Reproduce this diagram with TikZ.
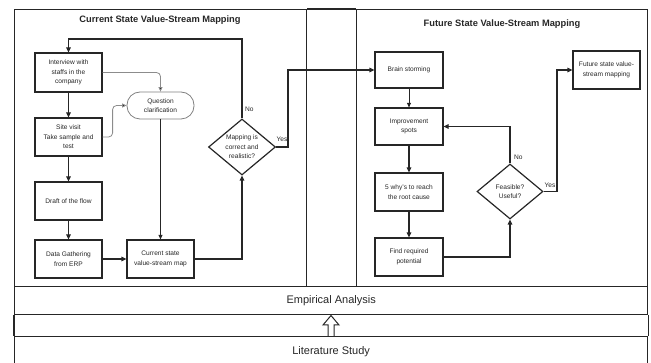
\documentclass[tikz,border=0pt]{standalone}
\usepackage{fontspec}
\setmainfont{Liberation Sans}
\usetikzlibrary{shapes.geometric,arrows.meta}
\begin{document}
\begin{tikzpicture}[x=1pt,y=-1pt,
  line join=miter,
  frame/.style={draw=black!85, line width=1.3pt},
  box/.style={draw=black!85, line width=1.2pt, minimum width=67pt, align=center,
    inner sep=1pt, font=\fontsize{6.6}{9.5}\selectfont, text=black!85},
  qbox/.style={box, draw=black!50, line width=0.8pt, rounded corners=13pt},
  dia/.style={diamond, draw=black!85, line width=1.2pt, inner sep=0pt},
  dtext/.style={align=center, font=\fontsize{6.6}{9.5}\selectfont, text=black!85},
  arr/.style={draw=black!85, line width=1.2pt, -{Triangle[length=5pt,width=4.5pt]}},
  tarr/.style={draw=black!85, line width=0.7pt, -{Triangle[length=4.5pt,width=4pt]}},
  garr/.style={draw=black!45, line width=0.8pt, rounded corners=4pt,
    -{Triangle[length=4.5pt,width=4pt,fill=black!85]}},
  lab/.style={font=\fontsize{6.6}{8}\selectfont, inner sep=0pt, text=black!85},
  title/.style={font=\bfseries\fontsize{9.3}{11}\selectfont, text=black!85},
  band/.style={frame, anchor=north west, inner sep=0pt, font=\fontsize{11}{13}\selectfont, text=black!85}
]
\useasboundingbox (0,0) rectangle (651,363);

% panels and bands
\node[frame, anchor=north west, minimum width=292pt, minimum height=277pt, inner sep=0pt] (lp) at (14,9) {};
\node[frame, anchor=north west, minimum width=291pt, minimum height=277pt, inner sep=0pt] (rp) at (356,9) {};
\draw[frame] (lp.north east) -- (rp.north west);
\node[band, minimum width=633pt, minimum height=28pt] (emp) at (14,286) {Empirical Analysis};
\node[band, minimum width=633pt, minimum height=30pt] (lit) at (14,336) {Literature Study};
\draw[frame] (emp.south west) -- (lit.north west);
\draw[frame] (emp.south east) -- (lit.north east);
\draw[draw=black!85, fill=white, line width=1pt]
  (328,336) -- (328,325) -- (323,325) -- (331,315.5) -- (339,325) -- (334,325) -- (334,336);

% titles
\node[title] (t1) at (160,20) {Current State Value-Stream Mapping};
\node[title] (t2) at (502,24) {Future State Value-Stream Mapping};

% left panel nodes
\node[box, minimum height=39pt] (int) at (68.5,72.5) {Interview with\\staffs in the\\company};
\node[box, minimum height=38pt] (site) at (68.5,137) {Site visit\\Take sample and\\test};
\node[box, minimum height=38pt] (draft) at (68.5,201) {Draft of the flow};
\node[box, minimum height=38pt] (data) at (68.5,259) {Data Gathering\\from ERP};
\node[box, minimum height=38pt] (cur) at (160.5,259) {Current state\\value-stream map};
\node[qbox, minimum height=27pt] (q) at (160.5,105.5) {Question\\clarification};
\node[dia, minimum width=67pt, minimum height=56pt] (d1) at (242,147) {};
\node[dtext] (d1t) at (d1.center) {Mapping is\\correct and\\realistic?};

% right panel nodes
\node[box, minimum width=68pt, minimum height=36pt] (brain) at (409,70) {Brain storming};
\node[box, minimum width=68pt, minimum height=37pt] (imp) at (409,126.5) {Improvement\\spots};
\node[box, minimum width=68pt, minimum height=38pt] (why) at (409,192) {5 why's to reach\\the root cause};
\node[box, minimum width=68pt, minimum height=38pt] (find) at (409,257) {Find required\\potential};
\node[dia, minimum width=66pt, minimum height=55pt] (d2) at (510,191.5) {};
\node[dtext] (d2t) at (d2.center) {Feasible?\\Useful?};
\node[box, minimum height=38pt] (fut) at (606.5,70) {Future state value-\\stream mapping};

% left connectors
\coordinate (lt) at (0,39);
\draw[arr] (d1.north) -- (d1.north |- lt) -| (int.north);
\node[lab, anchor=west] (no1) at (245,109) {No};
\coordinate (y1) at (288,0);
\draw[arr] (d1.east) -- (d1.east -| y1) -- (y1 |- brain.west) -- (brain.west);
\node[lab] (yes1) at (282,139) {Yes};
\draw[arr] (int) -- (site);
\draw[arr] (site) -- (draft);
\draw[arr] (draft) -- (data);
\draw[arr] (data) -- (cur);
\draw[arr] (cur.east) -| (d1.south);
\draw[tarr] (q.south) -- (cur.north);
\draw[garr] (int.east) -| (q.north);
\draw[garr] (site.east) -- ++(10,0) |- (q.west);

% right connectors
\draw[tarr] (brain) -- (imp);
\draw[arr] (imp) -- (why);
\draw[arr] (why) -- (find);
\draw[arr] (find.east) -| (d2.south);
\draw[arr] (d2.north) |- (imp.east);
\node[lab, anchor=west] (no2) at (514,157) {No};
\coordinate (y2) at (557,0);
\draw[arr] (d2.east) -- (d2.east -| y2) -- (y2 |- fut.west) -- (fut.west);
\node[lab] (yes2) at (550,185) {Yes};
\end{tikzpicture}
\end{document}
